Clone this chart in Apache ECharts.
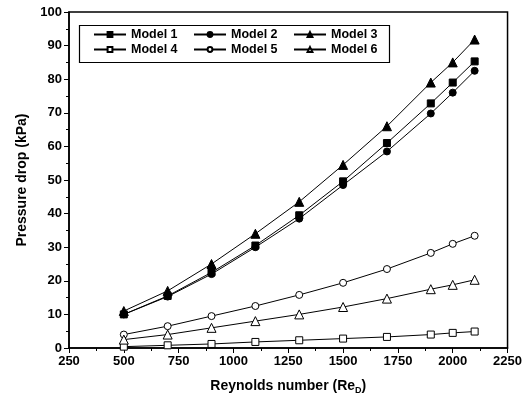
<!DOCTYPE html>
<html>
<head>
<meta charset="utf-8">
<script src="https://cdn.jsdelivr.net/npm/echarts@6/dist/echarts.min.js"></script>
<style>
  html, body { margin: 0; padding: 0; background: #fff; }
  #chart { width: 525px; height: 407px; }
</style>
</head>
<body>
<div id="chart"></div>
<script>
// Reynolds numbers
const reynolds = [500, 700, 900, 1100, 1300, 1500, 1700, 1900, 2000, 2100]

// pressure drop (kPa) per model
const model1 = [10.0, 15.5, 22.5, 30.5, 39.5, 49.6, 61.0, 72.8, 79.0, 85.3]
const model2 = [10.0, 15.3, 22.0, 30.0, 38.5, 48.5, 58.5, 69.8, 76.0, 82.5]
const model3 = [11.0, 17.0, 25.0, 34.0, 43.5, 54.5, 66.0, 79.0, 85.0, 91.8]
const model4 = [0.4, 0.8, 1.2, 1.8, 2.3, 2.8, 3.3, 4.0, 4.5, 4.9]
const model5 = [4.0, 6.5, 9.5, 12.5, 15.8, 19.4, 23.5, 28.3, 31.0, 33.4]
const model6 = [2.5, 4.0, 6.0, 8.0, 10.0, 12.2, 14.7, 17.5, 18.8, 20.3]

// legend columns as in the figure
const legendCols = [['Model 1', 'Model 4'], ['Model 2', 'Model 5'], ['Model 3', 'Model 6']]

const font = 'Liberation Sans'

const makeSeries = (name, values, symbol, filled) => ({
  name,
  type: 'line',
  data: reynolds.map((x, i) => [x, values[i]]),
  symbol,
  symbolSize: symbol === 'triangle' ? 9 : 7,
  showAllSymbol: true,
  lineStyle: { color: '#000', width: 1 },
  itemStyle: {
    color: filled ? '#000' : '#fff',
    borderColor: '#000',
    borderWidth: 1
  },
  emphasis: { disabled: true }
})

const chart = echarts.init(document.getElementById('chart'))

chart.setOption({
  animation: false,
  backgroundColor: '#fff',
  textStyle: { fontFamily: font },
  grid: {
    left: 69,
    right: 16,
    top: 12,
    bottom: 59,
    show: true,
    borderColor: '#000',
    borderWidth: 1.5
  },
  // box round the legend
  graphic: [{
    type: 'rect',
    left: 77,
    top: 23,
    shape: { width: 310, height: 37 },
    style: { fill: 'none', stroke: '#000', lineWidth: 1.2 },
    z: 10
  }],
  legend: legendCols.map((names, i) => ({
    orient: 'vertical',
    left: 93 + i * 100,
    top: 28,
    padding: 0,
    itemGap: 2,
    itemWidth: 32,
    itemHeight: 6,
    textStyle: { fontFamily: font, fontWeight: 'bold', fontSize: 12.5, color: '#000' },
    data: names
  })),
  xAxis: {
    type: 'value',
    min: 250,
    max: 2250,
    interval: 250,
    name: '{a|Reynolds number (Re}{s|D}{a|)}',
    nameLocation: 'middle',
    nameGap: 30,
    nameTextStyle: {
      rich: {
        a: { fontFamily: font, fontWeight: 'bold', fontSize: 14, color: '#000' },
        s: { fontFamily: font, fontWeight: 'bold', fontSize: 9, color: '#000', padding: [8, 0, 0, 0] }
      }
    },
    axisLine: { lineStyle: { color: '#000', width: 1.5 } },
    axisTick: { show: true, inside: false, length: 5, lineStyle: { color: '#000' } },
    minorTick: { show: true, splitNumber: 2, length: 3, lineStyle: { color: '#000' } },
    axisLabel: {
      fontFamily: font, fontWeight: 'bold', fontSize: 13, color: '#000', margin: 7,
      formatter: v => String(v)
    },
    splitLine: { show: false }
  },
  yAxis: {
    type: 'value',
    min: 0,
    max: 100,
    interval: 10,
    name: 'Pressure drop (kPa)',
    nameLocation: 'middle',
    nameGap: 40,
    nameTextStyle: { fontFamily: font, fontWeight: 'bold', fontSize: 14, color: '#000' },
    axisLine: { lineStyle: { color: '#000', width: 1.5 } },
    axisTick: { show: true, inside: false, length: 5, lineStyle: { color: '#000' } },
    minorTick: { show: true, splitNumber: 2, length: 3, lineStyle: { color: '#000' } },
    axisLabel: { fontFamily: font, fontWeight: 'bold', fontSize: 13, color: '#000', margin: 7 },
    splitLine: { show: false }
  },
  series: [
    makeSeries('Model 1', model1, 'rect', true),
    makeSeries('Model 2', model2, 'circle', true),
    makeSeries('Model 3', model3, 'triangle', true),
    makeSeries('Model 4', model4, 'rect', false),
    makeSeries('Model 5', model5, 'circle', false),
    makeSeries('Model 6', model6, 'triangle', false)
  ]
})
</script>
</body>
</html>
